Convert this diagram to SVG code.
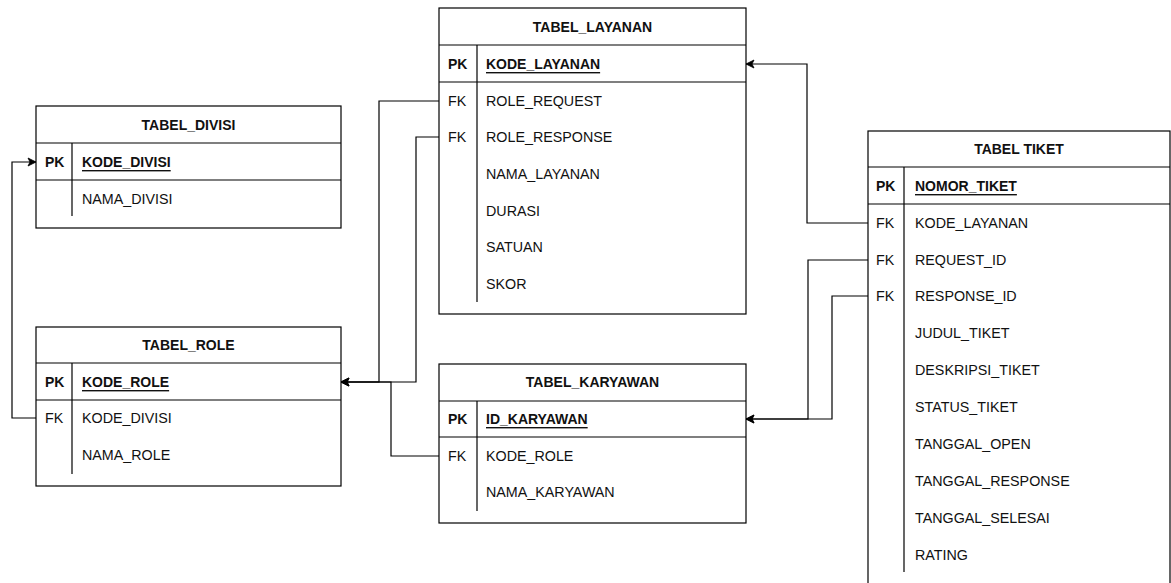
<svg xmlns="http://www.w3.org/2000/svg" width="1171" height="583" viewBox="0 0 1171 583">
<style>
.box{fill:#fff;stroke:#000;stroke-width:1.2}
.ln{stroke:#000;stroke-width:1.2;fill:none}
.t{font-family:"Liberation Sans",Arial,sans-serif;font-size:14.3px;fill:#111;dominant-baseline:central}
.b{font-weight:bold;font-size:14px}
.u{text-decoration:underline}
.c{text-anchor:middle}
.con{stroke:#000;stroke-width:1.2;fill:none;marker-end:url(#arr)}
</style>
<defs>
<marker id="arr" markerUnits="userSpaceOnUse" markerWidth="10" markerHeight="10" refX="9" refY="5" orient="auto">
<path d="M1,1 L9,5 L1,9 L3,5 Z" fill="#000" stroke="#000" stroke-width="0.8"/>
</marker>
</defs>
<rect width="1171" height="583" fill="#fff"/>

<g id="connectors">
<path class="con" d="M36,418 H12 V162 H36"/>
<path class="con" d="M439,101 H379 V382 H341"/>
<path class="con" d="M439,137 H416 V382 H341"/>
<path class="con" d="M439,456 H391 V382 H341"/>
<path class="con" d="M868,223 H807 V64 H746"/>
<path class="con" d="M868,260 H808 V419 H746"/>
<path class="con" d="M868,296 H832 V419 H746"/>
</g>

<g id="tabel_divisi">
<rect class="box" x="36" y="106" width="305" height="122"/>
<line class="ln" x1="36" y1="143" x2="341" y2="143"/>
<line class="ln" x1="36" y1="180" x2="341" y2="180"/>
<line class="ln" x1="72" y1="143" x2="72" y2="216"/>
<text class="t b c" x="188.5" y="125">TABEL_DIVISI</text>
<text class="t b" x="45" y="162">PK</text>
<text class="t b u" x="82" y="162">KODE_DIVISI</text>
<text class="t" x="82" y="199">NAMA_DIVISI</text>
</g>

<g id="tabel_role">
<rect class="box" x="36" y="327" width="305" height="159"/>
<line class="ln" x1="36" y1="363" x2="341" y2="363"/>
<line class="ln" x1="36" y1="400" x2="341" y2="400"/>
<line class="ln" x1="72" y1="363" x2="72" y2="474"/>
<text class="t b c" x="188.5" y="345">TABEL_ROLE</text>
<text class="t b" x="45" y="382">PK</text>
<text class="t b u" x="82" y="382">KODE_ROLE</text>
<text class="t" x="45" y="418">FK</text>
<text class="t" x="82" y="418">KODE_DIVISI</text>
<text class="t" x="82" y="455">NAMA_ROLE</text>
</g>

<g id="tabel_layanan">
<rect class="box" x="439" y="8" width="307" height="306"/>
<line class="ln" x1="439" y1="45" x2="746" y2="45"/>
<line class="ln" x1="439" y1="82" x2="746" y2="82"/>
<line class="ln" x1="477" y1="45" x2="477" y2="302"/>
<text class="t b c" x="592.5" y="27">TABEL_LAYANAN</text>
<text class="t b" x="448" y="64">PK</text>
<text class="t b u" x="486" y="64">KODE_LAYANAN</text>
<text class="t" x="448" y="101">FK</text>
<text class="t" x="486" y="101">ROLE_REQUEST</text>
<text class="t" x="448" y="137">FK</text>
<text class="t" x="486" y="137">ROLE_RESPONSE</text>
<text class="t" x="486" y="174">NAMA_LAYANAN</text>
<text class="t" x="486" y="211">DURASI</text>
<text class="t" x="486" y="247">SATUAN</text>
<text class="t" x="486" y="284">SKOR</text>
</g>

<g id="tabel_karyawan">
<rect class="box" x="439" y="364" width="307" height="159"/>
<line class="ln" x1="439" y1="401" x2="746" y2="401"/>
<line class="ln" x1="439" y1="437" x2="746" y2="437"/>
<line class="ln" x1="477" y1="401" x2="477" y2="511"/>
<text class="t b c" x="592.5" y="382">TABEL_KARYAWAN</text>
<text class="t b" x="448" y="419">PK</text>
<text class="t b u" x="486" y="419">ID_KARYAWAN</text>
<text class="t" x="448" y="456">FK</text>
<text class="t" x="486" y="456">KODE_ROLE</text>
<text class="t" x="486" y="492">NAMA_KARYAWAN</text>
</g>

<g id="tabel_tiket">
<rect class="box" x="868" y="131" width="302" height="480"/>
<line class="ln" x1="868" y1="167" x2="1170" y2="167"/>
<line class="ln" x1="868" y1="204" x2="1170" y2="204"/>
<line class="ln" x1="904" y1="167" x2="904" y2="572"/>
<text class="t b c" x="1019" y="149">TABEL TIKET</text>
<text class="t b" x="876" y="186">PK</text>
<text class="t b u" x="915" y="186">NOMOR_TIKET</text>
<text class="t" x="876" y="223">FK</text>
<text class="t" x="915" y="223">KODE_LAYANAN</text>
<text class="t" x="876" y="260">FK</text>
<text class="t" x="915" y="260">REQUEST_ID</text>
<text class="t" x="876" y="296">FK</text>
<text class="t" x="915" y="296">RESPONSE_ID</text>
<text class="t" x="915" y="333">JUDUL_TIKET</text>
<text class="t" x="915" y="370">DESKRIPSI_TIKET</text>
<text class="t" x="915" y="407">STATUS_TIKET</text>
<text class="t" x="915" y="444">TANGGAL_OPEN</text>
<text class="t" x="915" y="481">TANGGAL_RESPONSE</text>
<text class="t" x="915" y="518">TANGGAL_SELESAI</text>
<text class="t" x="915" y="555">RATING</text>
</g>
</svg>
